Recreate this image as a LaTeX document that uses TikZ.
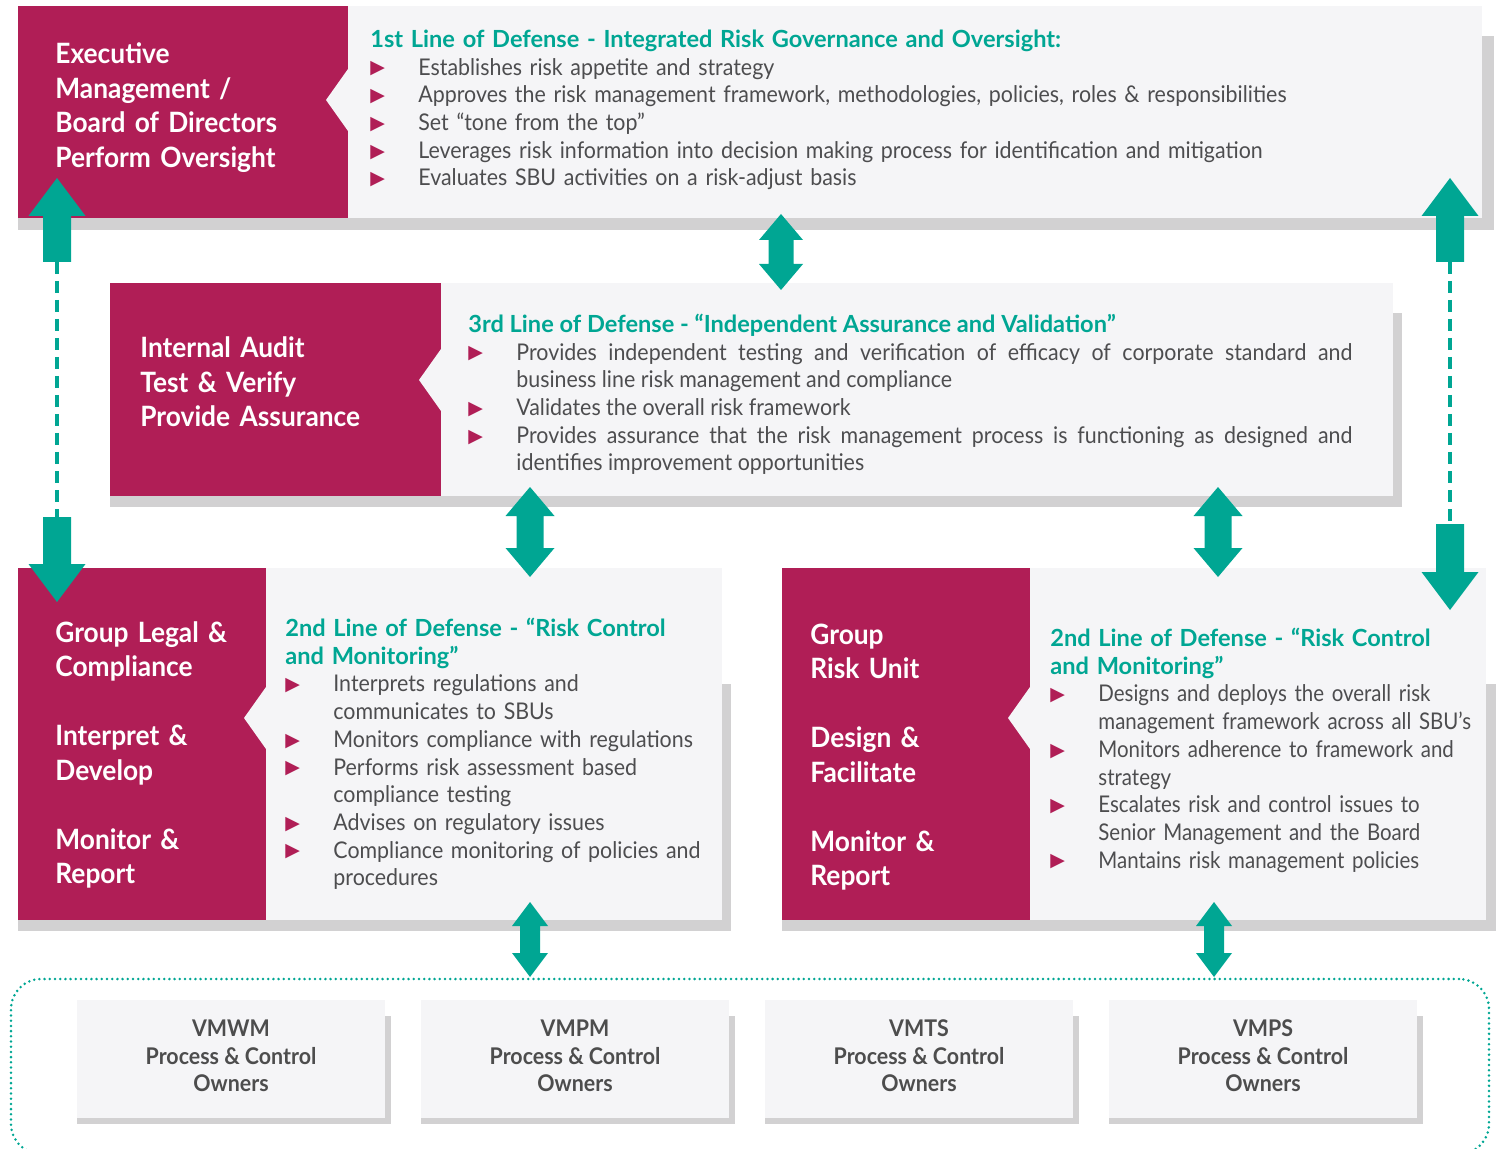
\documentclass[tikz,border=0pt]{standalone}
\usepackage{fontspec}
\setmainfont{Lato}
\newfontfamily\symfont{DejaVu Sans}
\newfontfamily\latohead{Lato}
\newfontfamily\latobody{Lato}[FakeStretch=0.93]
\newfontfamily\latonarrow{Lato}[FakeStretch=0.89]
\newfontfamily\latorole{Lato}[FakeStretch=0.94]
\usetikzlibrary{positioning, calc, fit, backgrounds}

\definecolor{rolec}{RGB}{176,30,86}
\definecolor{linkc}{RGB}{0,166,147}
\definecolor{panelc}{RGB}{245,245,247}
\definecolor{shadowc}{RGB}{210,209,210}
\definecolor{bodyc}{RGB}{77,77,79}
\definecolor{ownerc}{RGB}{77,77,77}

% bullets and list items
\newcommand{\bul}{\raisebox{0.6pt}{\textcolor{rolec}{\symfont\fontsize{9.5}{9.5}\selectfont ▶}}}
\newcommand{\duty}[1]{\par\noindent\hangindent=24pt\hangafter=1\makebox[24pt][l]{\bul}#1}
\newcommand{\lod}[1]{{\latohead\bfseries\fontsize{11.8}{13.85}\selectfont\color{linkc}#1}}

% notch cut into the right edge of a role box
\newcommand{\notch}[2]{\fill[panelc] ($(#1.north east)+(0,#2-31)$) -- ++(-22,31) -- ++(22,31) -- cycle;}

% block arrows
\newcommand{\dblarrow}[5]{%
  \fill[linkc] let \p1=#1, \p2=#2 in
    (\x1,\y1) -- (\x1+#3,\y1-#4) -- (\x1+#5,\y1-#4) -- (\x1+#5,\y2+#4) -- (\x1+#3,\y2+#4) -- (\x1,\y2)
    -- (\x1-#3,\y2+#4) -- (\x1-#5,\y2+#4) -- (\x1-#5,\y1-#4) -- (\x1-#3,\y1-#4) -- cycle;}
\newcommand{\uparrowblk}[2]{%
  \fill[linkc] let \p1=#1, \p2=#2 in
    (\x2,\y2) -- (\x2+14.25pt,\y2-19pt) -- (\x2+7pt,\y2-19pt) -- (\x2+7pt,\y1)
    -- (\x2-7pt,\y1) -- (\x2-7pt,\y2-19pt) -- (\x2-14.25pt,\y2-19pt) -- cycle;}
\newcommand{\downarrowblk}[2]{%
  \fill[linkc] let \p1=#1, \p2=#2 in
    (\x2,\y2) -- (\x2+14.25pt,\y2+19pt) -- (\x2+7pt,\y2+19pt) -- (\x2+7pt,\y1)
    -- (\x2-7pt,\y1) -- (\x2-7pt,\y2+19pt) -- (\x2-14.25pt,\y2+19pt) -- cycle;}

\begin{document}
\begin{tikzpicture}[x=0.5pt, y=-0.5pt,
  panel/.style={rectangle, fill=panelc, inner sep=0pt, outer sep=0pt},
  rolebox/.style={rectangle, fill=rolec, inner sep=0pt, outer sep=0pt},
  roletext/.style={anchor=base west, inner sep=0pt, text width=180pt, align=left, text=white,
    font=\latorole\bfseries\fontsize{14}{17.25}\selectfont},
  duties/.style={anchor=base west, inner sep=0pt, align=left, text=bodyc,
    font=\latobody\fontsize{11.5}{13.85}\selectfont},
  ownerbox/.style={rectangle, fill=panelc, minimum width=154pt, minimum height=59pt,
    inner sep=0pt, outer sep=0pt, align=center, text=ownerc, text depth=3pt,
    font=\latobody\bfseries\fontsize{11.5}{13.75}\selectfont},
  ownerframe/.style={rectangle, draw=linkc, rounded corners=15pt, line width=1.4pt,
    dash pattern=on 0pt off 2.6pt, line cap=round, inner sep=0pt, outer sep=0pt},
  dashlink/.style={draw=linkc, line width=1.8pt, dash pattern=on 6pt off 3.5pt}
]
\useasboundingbox (0,0) rectangle (1497,1149);

% panels
\node[panel, fit={(18,6) (1482,218)}] (firstpanel) {};
\node[rolebox, fit={(18,6) (348,218)}] (exec) {};
\notch{exec}{94}
\node[panel, fit={(110,283) (1393,496)}] (thirdpanel) {};
\node[rolebox, fit={(110,283) (441,496)}] (audit) {};
\notch{audit}{97}
\node[panel, fit={(18,568) (722,920)}] (legalpanel) {};
\node[rolebox, fit={(18,568) (266,920)}] (legal) {};
\notch{legal}{150}
\node[panel, fit={(782,568) (1486,920)}] (riskpanel) {};
\node[rolebox, fit={(782,568) (1030,920)}] (riskunit) {};
\notch{riskunit}{150}

% owners
\node[ownerframe, fit={(11,979) (1489,1154)}] (owners) {};
\node[ownerbox] (vmwm) at (231,1059) {VMWM\\Process \& Control\\Owners};
\node[ownerbox, right=18pt of vmwm] (vmpm) {VMPM\\Process \& Control\\Owners};
\node[ownerbox, right=18pt of vmpm] (vmts) {VMTS\\Process \& Control\\Owners};
\node[ownerbox, right=18pt of vmts] (vmps) {VMPS\\Process \& Control\\Owners};

% shadows
\begin{scope}[on background layer]
\fill[shadowc] ($(firstpanel.north west)+(0,30)$) rectangle ($(firstpanel.south east)+(12,12)$);
\fill[shadowc] ($(thirdpanel.north west)+(0,30)$) rectangle ($(thirdpanel.south east)+(9,11)$);
\fill[shadowc] ($(legalpanel.north west)+(0,116)$) rectangle ($(legalpanel.south east)+(9,11)$);
\fill[shadowc] ($(riskpanel.north west)+(0,116)$) rectangle ($(riskpanel.south east)+(10,11)$);
\foreach \b in {vmwm,vmpm,vmts,vmps}
  \fill[shadowc] ($(\b.north west)+(0,16)$) rectangle ($(\b.south east)+(6,6)$);
\end{scope}

% role labels
\node[roletext] (exectext) at (55,64) {Executive\\Management /\\Board of Directors\\Perform Oversight};
\node[roletext] (audittext) at (140,358) {Internal Audit\\Test \& Verify\\Provide Assurance};
\node[roletext] (legaltext) at (55,642) {Group Legal \&\\Compliance\\[17.25pt]Interpret \&\\Develop\\[17.25pt]Monitor \&\\Report};
\node[roletext] (risktext) at (810,644) {Group\\Risk Unit\\[17.25pt]Design \&\\Facilitate\\[17.25pt]Monitor \&\\Report};

% duties
\node[duties, text width=550pt] (firsttext) at (370,47.5) {\lod{1st Line of Defense - Integrated Risk Governance and Oversight:}
  \duty{Establishes risk appetite and strategy}
  \duty{Approves the risk management framework, methodologies, policies, roles \& responsibilities}
  \duty{Set “tone from the top”}
  \duty{Leverages risk information into decision making process for identification and mitigation}
  \duty{Evaluates SBU activities on a risk-adjust basis}\par};
\node[duties, text width=442pt, align=justify] (thirdtext) at (468,332.5) {\lod{3rd Line of Defense - “Independent Assurance and Validation”}
  \duty{Provides independent testing and verification of efficacy of corporate standard and\linebreak business line risk management and compliance}
  \duty{Validates the overall risk framework}
  \duty{Provides assurance that the risk management process is functioning as designed and\linebreak identifies improvement opportunities}\par};
\node[duties, text width=300pt] (legalduties) at (285,636.5) {\lod{2nd Line of Defense - “Risk Control\newline and Monitoring”}
  \duty{Interprets regulations and\newline communicates to SBUs}
  \duty{Monitors compliance with regulations}
  \duty{Performs risk assessment based\newline compliance testing}
  \duty{Advises on regulatory issues}
  \duty{Compliance monitoring of policies and\newline procedures}\par};
\node[duties, text width=300pt, font=\latonarrow\fontsize{11.5}{13.85}\selectfont] (riskduties) at (1050,646.5) {\lod{2nd Line of Defense - “Risk Control\newline and Monitoring”}
  \duty{Designs and deploys the overall risk\newline management framework across all SBU’s}
  \duty{Monitors adherence to framework and\newline strategy}
  \duty{Escalates risk and control issues to\newline Senior Management and the Board}
  \duty{Mantains risk management policies}\par};

% links between the lines of defense
\dblarrow{($(firstpanel.south)+(31,-4)$)}{($(thirdpanel.north)+(29.5,7)$)}{11pt}{13pt}{6.25pt}
\dblarrow{($(thirdpanel.south)+(-221.5,-9)$)}{($(legalpanel.north)+(160,9)$)}{12.25pt}{14.5pt}{6.75pt}
\dblarrow{($(thirdpanel.south)+(466.5,-9)$)}{($(riskpanel.north)+(84,9)$)}{12.25pt}{14.5pt}{6.75pt}
\dblarrow{($(legalpanel.south)+(160,-18)$)}{($(owners.north)+(-220,-2)$)}{9pt}{12pt}{5pt}
\dblarrow{($(riskpanel.south)+(80,-18)$)}{($(owners.north)+(464,-2)$)}{9pt}{12pt}{5pt}

% oversight links
\coordinate (la) at ($(exec.south west)+(39,-40)$);
\coordinate (lb) at ($(legal.north west)+(39,34)$);
\uparrowblk{($(la)+(0,84)$)}{(la)}
\draw[dashlink] ($(la)+(0,84)$) -- ($(lb)+(0,-85)$);
\downarrowblk{($(lb)+(0,-85)$)}{(lb)}
\coordinate (ra) at ($(firstpanel.south east)+(-32,-40)$);
\coordinate (rb) at ($(riskpanel.north east)+(-36,42)$);
\uparrowblk{($(ra)+(0,84)$)}{(ra)}
\draw[dashlink] ($(ra)+(0,84)$) -- ($(rb)+(0,-86)$);
\downarrowblk{($(rb)+(0,-86)$)}{(rb)}
\end{tikzpicture}
\end{document}
